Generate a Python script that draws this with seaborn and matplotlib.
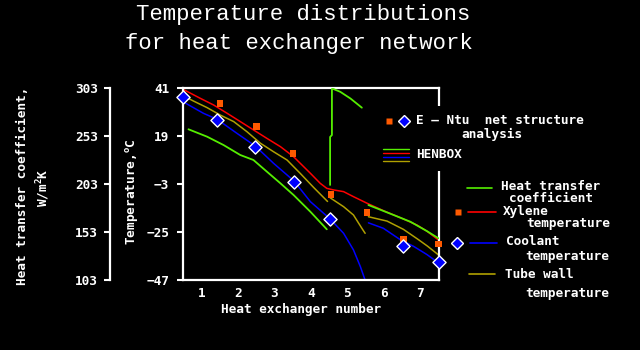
import matplotlib
matplotlib.use("Agg")
import matplotlib.pyplot as plt
import seaborn as sns
import pandas as pd
from matplotlib.lines import Line2D
from matplotlib.patches import Rectangle

# ---------------- data ----------------
# HENBOX xylene temperature (continuous)
xyl_x = [0.5, 0.97, 1.34, 1.71, 2.07, 2.43, 2.80, 3.17, 3.53, 3.99, 4.26, 4.44,
         4.62, 4.90, 5.17, 5.54, 5.99, 6.45, 6.91, 7.18, 7.5]
xyl_t = [40.4, 36.3, 33.2, 29.4, 25.6, 21.8, 17.9, 14.1, 9.5, 1.9, -2.7, -5.0,
         -5.7, -6.5, -8.8, -11.8, -15.2, -18.4, -21.8, -24.6, -28.7]

# HENBOX tube wall temperature (three segments)
wall_x1 = [0.5, 0.79, 1.16, 1.52, 1.89, 2.25, 2.62, 2.98, 3.35, 3.71, 4.08, 4.46]
wall_t1 = [37.5, 35.0, 32.0, 28.6, 25.6, 21.0, 15.7, 11.8, 8.0, 1.9, -4.6, -11.0]
wall_x2 = [4.53, 4.90, 5.17, 5.40, 5.49]
wall_t2 = [-9.3, -13.4, -17.2, -23.3, -25.6]
wall_x3 = [5.58, 6.09, 6.54, 6.95, 7.2, 7.5]
wall_t3 = [-18.0, -20.0, -23.8, -28.5, -31.5, -35.5]

# HENBOX coolant temperature (two segments)
cool_x1 = [0.5, 1.06, 1.43, 1.98, 2.48, 2.98, 3.54, 3.99, 4.53, 4.90, 5.17, 5.36, 5.52]
cool_t1 = [34.7, 29.4, 26.7, 20.2, 14.4, 6.5, -1.6, -11.1, -19.0, -25.6, -33.2, -40.9, -48.5]
cool_x2 = [5.58, 5.99, 6.45, 6.82, 7.18, 7.47]
cool_t2 = [-20.8, -23.3, -28.5, -31.6, -35.3, -38.8]

# HENBOX heat transfer coefficient, W/m2K (three segments)
htc_x1 = [0.65, 1.16, 1.61, 2.07, 2.43, 2.80, 3.17, 3.53, 3.99, 4.44]
htc_h1 = [260.0, 252.3, 243.6, 233.2, 228.0, 215.8, 203.7, 191.5, 174.1, 155.8]
htc_x2 = [4.53, 4.53, 4.58, 4.58, 4.62, 4.81, 5.09, 5.40]
htc_h2 = [202.0, 252.0, 254.0, 302.0, 302.0, 299.0, 292.0, 282.5]
htc_x3 = [5.58, 6.27, 6.73, 7.18, 7.5]
htc_h3 = [181.1, 170.7, 163.7, 154.0, 146.4]

# E-Ntu net structure analysis
entu_xyl_x = [1.52, 2.51, 3.52, 4.56, 5.54, 6.54, 7.5]
entu_xyl_t = [33.8, 23.3, 11.0, -7.8, -16.0, -28.3, -30.6]
entu_cool_x = [0.5, 1.43, 2.48, 3.54, 4.53, 6.54, 7.5]
entu_cool_t = [36.9, 26.3, 14.1, -1.9, -19.2, -31.2, -38.9]

x_ticks = [1, 2, 3, 4, 5, 6, 7]
t_ticks = [-47, -25, -3, 19, 41]
h_ticks = [103, 153, 203, 253, 303]

# ---------------- style ----------------
GREEN = "#55ee00"
RED = "#ff0000"
BLUE = "#0000ff"
OLIVE = "#b0a000"
ORANGE = "#ff5a00"
W, H = 640, 350

sns.set_theme(style="dark")
plt.rcParams.update({
    "figure.facecolor": "black",
    "axes.facecolor": "black",
    "axes.grid": False,
    "text.color": "white",
    "axes.labelcolor": "white",
    "xtick.color": "white",
    "ytick.color": "white",
    "font.weight": "bold",
    "axes.labelweight": "bold",
    "mathtext.default": "regular",
})
plt.rcParams["font.family"] = ["DejaVu Sans Mono", "DejaVu Sans"]
FS = 9.2


def fx(px):
    return px / W


def fy(py):
    return 1 - py / H


fig = plt.figure(figsize=(6.4, 3.5), dpi=100)
ax = fig.add_axes([183 / W, 70 / H, 255.5 / W, 192 / H])
ax2 = ax.twinx()

# ---------------- series ----------------
def seg_frame(pairs, yname):
    frames = []
    for i, (xs, ys) in enumerate(pairs):
        frames.append(pd.DataFrame({"x": xs, yname: ys, "seg": i}))
    return pd.concat(frames, ignore_index=True)

df_xyl = seg_frame([(xyl_x, xyl_t)], "t")
df_wall = seg_frame([(wall_x1, wall_t1), (wall_x2, wall_t2), (wall_x3, wall_t3)], "t")
df_cool = seg_frame([(cool_x1, cool_t1), (cool_x2, cool_t2)], "t")
df_htc = seg_frame([(htc_x1, htc_h1), (htc_x2, htc_h2), (htc_x3, htc_h3)], "h")

lw = 1.1
sns.lineplot(data=df_wall, x="x", y="t", units="seg", estimator=None, sort=False,
             color=OLIVE, lw=lw, ax=ax)
sns.lineplot(data=df_cool, x="x", y="t", units="seg", estimator=None, sort=False,
             color=BLUE, lw=lw, ax=ax)
sns.lineplot(data=df_xyl, x="x", y="t", units="seg", estimator=None, sort=False,
             color=RED, lw=lw, ax=ax)
sns.scatterplot(x=entu_xyl_x, y=entu_xyl_t, marker="s", s=22, color=ORANGE,
                edgecolor="none", ax=ax, zorder=5, clip_on=False)
sns.scatterplot(x=entu_cool_x, y=entu_cool_t, marker="D", s=45, color=BLUE,
                edgecolor="white", linewidth=1.0, ax=ax, zorder=6, clip_on=False)
sns.lineplot(data=df_htc, x="x", y="h", units="seg", estimator=None, sort=False,
             color=GREEN, lw=1.3, ax=ax2)

# ---------------- axes ----------------
ax.set_xlim(0.5, 7.5)
ax.set_ylim(-47, 41)
ax2.set_ylim(103, 303)

ax.set_xticks(x_ticks)
ax.set_xticks([v + 0.5 for v in [0] + x_ticks], minor=True)
ax.set_yticks(t_ticks)
ax.set_yticklabels([str(v).replace("-", "\u2212") for v in t_ticks])
ax.tick_params(axis="x", which="both", direction="in", length=3, width=1.5,
               labelsize=FS, pad=5, colors="white")
ax.tick_params(axis="y", direction="out", length=4, width=1.5, labelsize=FS,
               pad=6, colors="white")
for s in ["left", "right", "top", "bottom"]:
    ax.spines[s].set_visible(True)
    ax.spines[s].set_color("white")
    ax.spines[s].set_linewidth(1.6)

ax2.yaxis.set_ticks_position("left")
ax2.yaxis.set_label_position("left")
ax2.spines["left"].set_position(("outward", 52.6))
ax2.spines["left"].set_visible(True)
ax2.spines["left"].set_color("white")
ax2.spines["left"].set_linewidth(1.6)
for s in ["right", "top", "bottom"]:
    ax2.spines[s].set_visible(False)
ax2.set_yticks(h_ticks)
ax2.tick_params(axis="y", direction="out", length=4, width=1.5, labelsize=FS,
                pad=4.8, colors="white")
ax2.set_ylabel("")

ax.set_xlabel("Heat exchanger number", fontsize=FS, color="white")
ax.xaxis.set_label_coords((301 - 183) / 255.5, -(303 - 280) / 192)
ax.set_ylabel("Temperature,$^{o}$C", fontsize=FS, color="white")
ax.yaxis.set_label_coords((141 - 183) / 255.5, (280 - 192) / 192)

fig.text(fx(22.5), fy(185.5), "Heat transfer coefficient,", rotation=90,
         ha="center", va="center", fontsize=FS)
fig.text(fx(43), fy(188), "W/m$^{2}$K", rotation=90,
         ha="center", va="center", fontsize=FS)

# ---------------- title ----------------
fig.text(fx(303.5), fy(20), "Temperature distributions", ha="center",
         va="baseline", family="Liberation Mono", weight="normal", fontsize=16.0)
fig.text(fx(298.5), fy(49), "for heat exchanger network", ha="center",
         va="baseline", family="Liberation Mono", weight="normal", fontsize=16.0)

# ---------------- keys ----------------
fig.add_artist(Rectangle((fx(433), fy(171)), (444 - 433) / W, (171 - 106) / H,
                         transform=fig.transFigure, facecolor="black",
                         edgecolor="none", zorder=1))


def key_line(x0, x1, y, color, lw=1.2):
    fig.add_artist(Line2D([fx(x0), fx(x1)], [fy(y), fy(y)],
                          transform=fig.transFigure, color=color, lw=lw))


def key_marker(x, y, marker, size, color, edge="none"):
    fig.add_artist(Line2D([fx(x)], [fy(y)], transform=fig.transFigure,
                          ls="none", marker=marker, ms=size, mfc=color,
                          mec=edge, mew=1.0))


def key_text(x, y, s):
    fig.text(fx(x), fy(y), s, ha="left", va="center", fontsize=FS)


# top keys
key_marker(388.5, 120.5, "s", 4.6, ORANGE)
key_marker(404, 120.5, "D", 6.6, BLUE, "white")
key_text(416, 120, "E \u2013 Ntu  net structure")
key_text(461, 134, "analysis")
for yy, cc in zip([149.3, 153.3, 157.0, 160.7], [GREEN, RED, BLUE, OLIVE]):
    key_line(383, 409, yy, cc, lw=1.0)
key_text(416, 155, "HENBOX")

# right keys
key_line(467, 492, 187.5, GREEN)
key_text(501, 186.3, "Heat transfer")
key_text(509, 198.7, "coefficient")
key_marker(457.5, 212.5, "s", 4.6, ORANGE)
key_line(468, 496, 212.5, RED)
key_text(503, 211.5, "Xylene")
key_text(526, 223.5, "temperature")
key_marker(457, 242.5, "D", 6.6, BLUE, "white")
key_line(470, 497, 242.7, BLUE)
key_text(506, 241.5, "Coolant")
key_text(525, 256.5, "temperature")
key_line(469, 495, 274.3, OLIVE)
key_text(505, 275, "Tube wall")
key_text(525, 293, "temperature")

fig.savefig("out.png", dpi=100, facecolor="black")
